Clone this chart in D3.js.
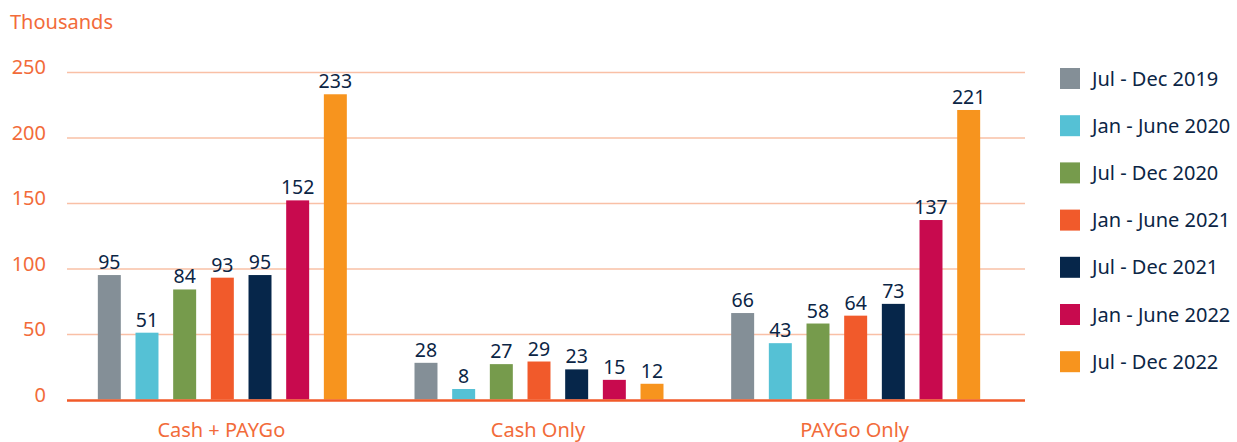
<!DOCTYPE html>
<html>
<head>
<meta charset="utf-8">
<script src="https://cdn.jsdelivr.net/npm/d3@7"></script>
<style>
  body { margin: 0; background: #fff; }
  text { font-family: "Noto Sans", sans-serif; }
</style>
</head>
<body>
<svg id="chart" width="1237" height="442"></svg>
<script>
let categories = ["Cash + PAYGo", "Cash Only", "PAYGo Only"]
let periods = ["Jul - Dec 2019", "Jan - June 2020", "Jul - Dec 2020", "Jan - June 2021",
               "Jul - Dec 2021", "Jan - June 2022", "Jul - Dec 2022"]
let colors = ["#848f97", "#55c1d5", "#769b4c", "#f15a2b", "#06264a", "#c80a4e", "#f7941e"]
// one array per period, values in thousands for each category
let jul2019 = [95, 28, 66]
let jan2020 = [51, 8, 43]
let jul2020 = [84, 27, 58]
let jan2021 = [93, 29, 64]
let jul2021 = [95, 23, 73]
let jan2022 = [152, 15, 137]
let jul2022 = [233, 12, 221]
let series = [jul2019, jan2020, jul2020, jan2021, jul2021, jan2022, jul2022]
let yTicks = [0, 50, 100, 150, 200, 250]

let orange = "#f26b3a"
let navy = "#0b2545"
let svg = d3.select("#chart")

let x0 = d3.scaleBand().domain(categories).range([64, 1014])
let bw = x0.bandwidth()
let x1 = d3.scaleBand().domain(periods)
    .range([bw / 2 - 124.5, bw / 2 + 124.5])
    .paddingInner(0.39)
let y = d3.scaleLinear().domain([0, 250]).range([399.5, 72])

// gridlines
svg.append("g")
    .attr("transform", "translate(67,0)")
    .call(d3.axisLeft(y).tickValues(yTicks.slice(1)).tickSize(-958).tickFormat(""))
    .call(g => g.select(".domain").remove())
    .call(g => g.selectAll("line").attr("stroke", "#f9c0a6").attr("stroke-width", 1.3))

// y tick labels
svg.append("g")
    .selectAll("text")
    .data(yTicks)
    .enter()
    .append("text")
    .attr("x", 46)
    .attr("y", d => y(d) + 2)
    .attr("text-anchor", "end")
    .style("font-size", "20px")
    .style("fill", orange)
    .text(d => d)

svg.append("text")
    .attr("x", 10)
    .attr("y", 29)
    .style("font-size", "20px")
    .style("fill", orange)
    .text("Thousands")

// bars
let rows = []
series.forEach((vals, i) => vals.forEach((v, j) => rows.push({cat: categories[j], period: periods[i], i: i, v: v})))

let bars = svg.append("g")
bars.selectAll("rect")
    .data(rows)
    .enter()
    .append("rect")
    .attr("x", d => x0(d.cat) + x1(d.period))
    .attr("y", d => y(d.v))
    .attr("width", x1.bandwidth())
    .attr("height", d => y(0) - y(d.v))
    .style("fill", d => colors[d.i])

bars.selectAll("text")
    .data(rows)
    .enter()
    .append("text")
    .attr("x", d => x0(d.cat) + x1(d.period) + x1.bandwidth() / 2)
    .attr("y", d => y(d.v) - 6)
    .attr("text-anchor", "middle")
    .style("font-size", "19.5px")
    .style("fill", navy)
    .text(d => d.v)

// baseline
svg.append("line")
    .attr("x1", 67).attr("x2", 1025)
    .attr("y1", y(0) + 1).attr("y2", y(0) + 1)
    .attr("stroke", "#f15a29")
    .attr("stroke-width", 2.5)

// category labels
svg.append("g")
    .selectAll("text")
    .data(categories)
    .enter()
    .append("text")
    .attr("x", d => x0(d) + bw / 2 - 1)
    .attr("y", 437)
    .attr("text-anchor", "middle")
    .style("font-size", "20px")
    .style("fill", orange)
    .text(d => d)

// legend
let legend = svg.append("g")
    .selectAll("g")
    .data(periods)
    .enter()
    .append("g")
    .attr("transform", (d, i) => "translate(1060," + (68 + i * 47.2) + ")")

legend.append("rect")
    .attr("width", 20)
    .attr("height", 21)
    .style("fill", (d, i) => colors[i])

legend.append("text")
    .attr("x", 32)
    .attr("y", 17.5)
    .style("font-size", "20px")
    .style("fill", navy)
    .text(d => d)
</script>
</body>
</html>
